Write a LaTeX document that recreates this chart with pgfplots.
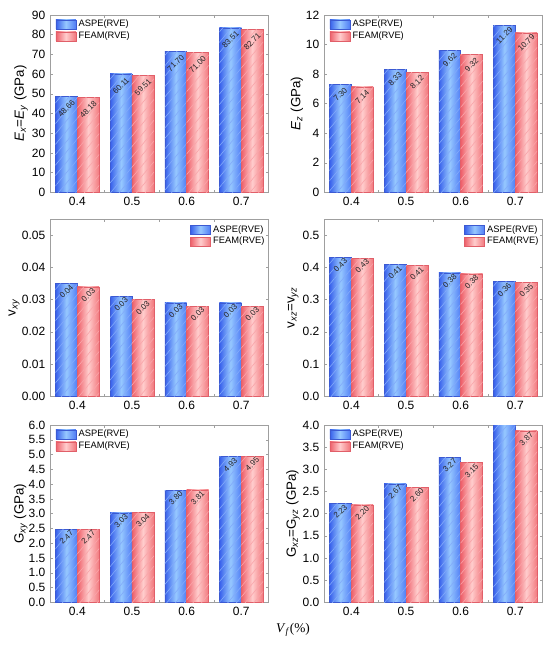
\documentclass[border=0pt]{standalone}
\usepackage{pgfplots}
\pgfplotsset{compat=1.18}
\usepackage{fontspec}
\setmainfont{Liberation Sans}
\newfontfamily\serifrm{Liberation Serif}
\usetikzlibrary{patterns.meta}
\definecolor{blueD}{RGB}{55,95,235}
\definecolor{blueL}{RGB}{150,200,255}
\definecolor{blueR}{RGB}{80,125,245}
\definecolor{blueE}{RGB}{60,90,210}
\definecolor{blueP}{RGB}{130,170,250}
\definecolor{redD}{RGB}{238,95,105}
\definecolor{redL}{RGB}{255,205,205}
\definecolor{redR}{RGB}{242,120,125}
\definecolor{redE}{RGB}{225,95,105}
\definecolor{redP}{RGB}{250,165,170}
\pgfplotsset{
  myax/.style={
    scale only axis, width=164pt, height=133pt,
    xmin=-0.5, xmax=3.5, xtick={0,1,2,3}, xticklabels={0.4,0.5,0.6,0.7},
    minor xtick={0.5,1.5,2.5},
    ymin=0,
    axis line style={gray!75}, tick style={gray!75, line width=0.4pt},
    tick align=inside, major tick length=2pt, minor tick length=2pt,
    major x tick style={draw=none},
    ticklabel style={font=\fontsize{9}{10}\selectfont},
    /pgf/number format/assume math mode=true,
    point meta=explicit symbolic,
    legend cell align=left,
    legend image code/.code={\draw[##1] (0pt,-3.4pt) rectangle (15pt,3.4pt);},
    legend style={draw=none, fill=none, font=\fontsize{7}{8}\selectfont, row sep=-1.6pt, inner sep=1pt},
    ylabel style={font=\fontsize{9.5}{11}\selectfont},
  },
  legNW/.style={legend style={at={(rel axis cs:0,1)}, anchor=north west, xshift=3pt, yshift=-0.5pt}},
  legNE/.style={legend style={at={(rel axis cs:1,1)}, anchor=north east, xshift=0pt, yshift=-1.5pt}},
  yl/.style={every axis y label/.style={at={(rel axis cs:0,0.5)}, xshift=-#1, rotate=90, anchor=center}},
  nsh/.style={nlsh/.style={every node near coord/.append style={font=\fontsize{6}{7}\selectfont, text=black!85, anchor=center, yshift=-#1, rotate=45}}},
  nlsh/.style={},
  aspe/.style={left color=blueD, right color=blueR, middle color=blueL, draw=blueE, line width=0.3pt},
  feam/.style={left color=redD, right color=redR, middle color=redL, draw=redE, line width=0.3pt},
  bA/.style={ybar, bar width=0.4, bar shift=-0.2, aspe, forget plot},
  bF/.style={ybar, bar width=0.4, bar shift=0.2, feam, forget plot},
  pat/.style 2 args={ybar, bar width=0.4, bar shift=#1, draw=none, forget plot,
    pattern={Lines[angle=50,distance=5pt,line width=0.45pt]}, pattern color=#2,
    nodes near coords},
}
\newcommand\bA[3]{\addplot[bA] coordinates {(#1,#2)};\addplot[pat={-0.2}{blueP}, every node near coord/.append style={xshift=-8.2pt}, nlsh] coordinates {(#1,#2)[#3]};}
\newcommand\bF[3]{\addplot[bF] coordinates {(#1,#2)};\addplot[pat={0.2}{redP}, every node near coord/.append style={xshift=8.2pt}, nlsh] coordinates {(#1,#2)[#3]};}
\newcommand\legs{\addlegendimage{aspe}\addlegendentry{ASPE(RVE)}\addlegendimage{feam}\addlegendentry{FEAM(RVE)}}
\begin{document}
\begin{tikzpicture}
\useasboundingbox (0,0) rectangle (412.5pt,-484.5pt);
% Top-left
\begin{axis}[myax, at={(37.5pt,-11.25pt)}, anchor=north west, ymax=90, ytick={0,10,...,90},
  legNW, yl=21.75pt, nsh=9pt,
  ylabel={\textit{E}\textsubscript{\textit{x}}=\textit{E}\textsubscript{\textit{y}} (GPa)}]
\legs
\bA{0}{48.66}{48.66}\bA{1}{60.11}{60.11}\bA{2}{71.70}{71.70}\bA{3}{83.51}{83.51}
\bF{0}{48.18}{48.18}\bF{1}{59.51}{59.51}\bF{2}{71.00}{71.00}\bF{3}{82.71}{82.71}
\end{axis}
% Top-right
\begin{axis}[myax, at={(243pt,-11.25pt)}, anchor=north west, ymax=12, ytick={0,2,...,12},
  legNW, yl=20.25pt, nsh=7.5pt,
  ylabel={\textit{E}\textsubscript{\textit{z}} (GPa)}]
\legs
\bA{0}{7.30}{7.30}\bA{1}{8.33}{8.33}\bA{2}{9.62}{9.62}\bA{3}{11.29}{11.29}
\bF{0}{7.14}{7.14}\bF{1}{8.12}{8.12}\bF{2}{9.32}{9.32}\bF{3}{10.79}{10.79}
\end{axis}
% Middle-left
\begin{axis}[myax, at={(37.5pt,-164.25pt)}, anchor=north west, ymax=0.055, ytick={0,0.01,0.02,0.03,0.04,0.05},
  yticklabel style={/pgf/number format/.cd, fixed, fixed zerofill, precision=2},
  scaled y ticks=false,
  legNE, yl=27pt, nsh=6pt,
  ylabel={v\textsubscript{\textit{xy}}}]
\legs
\bA{0}{0.035}{0.04}\bA{1}{0.031}{0.03}\bA{2}{0.029}{0.03}\bA{3}{0.029}{0.03}
\bF{0}{0.034}{0.03}\bF{1}{0.030}{0.03}\bF{2}{0.028}{0.03}\bF{3}{0.028}{0.03}
\end{axis}
% Middle-right
\begin{axis}[myax, at={(243pt,-164.25pt)}, anchor=north west, ymax=0.55, ytick={0,0.1,0.2,0.3,0.4,0.5},
  yticklabel style={/pgf/number format/.cd, fixed, fixed zerofill, precision=1},
  legNE, yl=23.25pt, nsh=6pt,
  ylabel={v\textsubscript{\textit{xz}}=v\textsubscript{\textit{yz}}}]
\legs
\bA{0}{0.431}{0.43}\bA{1}{0.409}{0.41}\bA{2}{0.383}{0.38}\bA{3}{0.356}{0.36}
\bF{0}{0.429}{0.43}\bF{1}{0.406}{0.41}\bF{2}{0.380}{0.38}\bF{3}{0.353}{0.35}
\end{axis}
% Bottom-left
\begin{axis}[myax, at={(37.5pt,-318.75pt)}, anchor=north west, ymax=6, ytick={0,0.5,...,6},
  yticklabel style={/pgf/number format/.cd, fixed, fixed zerofill, precision=1},
  legNW, yl=22pt, nsh=6pt,
  ylabel={G\textsubscript{\textit{xy}} (GPa)}]
\legs
\bA{0}{2.47}{2.47}\bA{1}{3.03}{3.03}\bA{2}{3.80}{3.80}\bA{3}{4.93}{4.93}
\bF{0}{2.47}{2.47}\bF{1}{3.04}{3.04}\bF{2}{3.81}{3.81}\bF{3}{4.95}{4.95}
\end{axis}
% Bottom-right
\begin{axis}[myax, at={(243pt,-318.75pt)}, anchor=north west, ymax=4, ytick={0,0.5,...,4},
  yticklabel style={/pgf/number format/.cd, fixed, fixed zerofill, precision=1},
  legNW, yl=23.25pt, nsh=6pt,
  ylabel={G\textsubscript{\textit{xz}}=G\textsubscript{\textit{yz}} (GPa)}]
\legs
\bA{0}{2.23}{2.23}\bA{1}{2.67}{2.67}\bA{2}{3.27}{3.27}\bA{3}{4.09}{4.09}
\bF{0}{2.20}{2.20}\bF{1}{2.60}{2.60}\bF{2}{3.15}{3.15}\bF{3}{3.87}{3.87}
\end{axis}
\node[font=\fontsize{10}{12}\selectfont\serifrm] at (219.75pt,-472.5pt) {\textit{V}\textsubscript{\textit{f}}(\%)};
\end{tikzpicture}
\end{document}
